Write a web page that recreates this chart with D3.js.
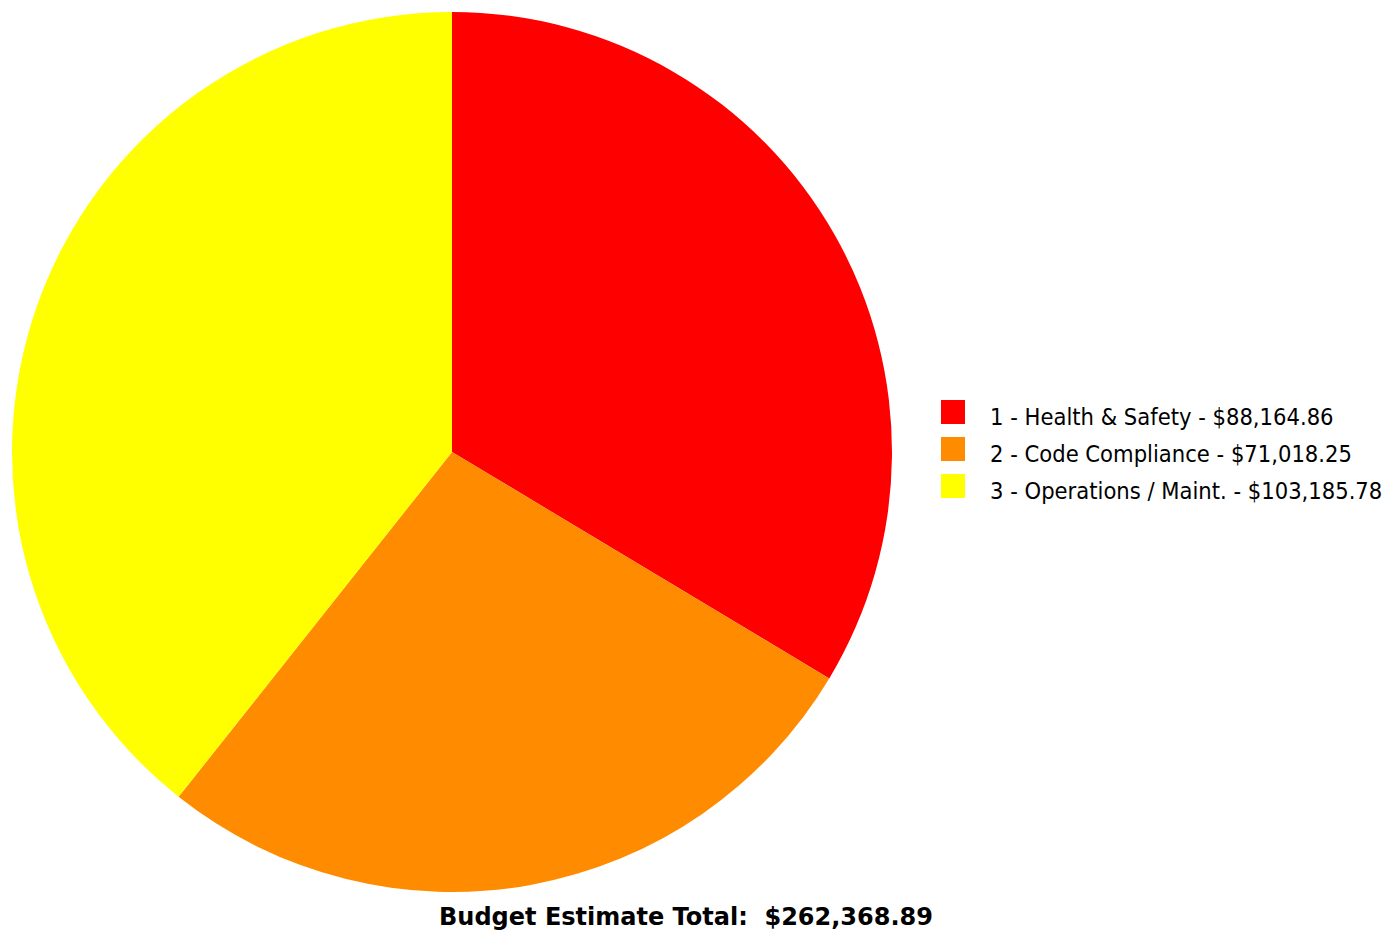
<!DOCTYPE html>
<html><head><meta charset="utf-8">
<script src="https://cdn.jsdelivr.net/npm/d3@7"></script>
<style>html,body{margin:0;padding:0;background:#fff;}</style>
</head><body>
<svg id="c" width="1390" height="931"></svg>
<script>
const categories = ["1 - Health & Safety", "2 - Code Compliance", "3 - Operations / Maint."];
const values = [88164.86, 71018.25, 103185.78];
const colors = ["#FF0000", "#FF8C00", "#FFFF00"];
const totalLabel = "Budget Estimate Total:";

const svg = d3.select("#c");
const cx = 452, cy = 452, r = 440;
const fmt = d3.format("$,.2f");

const pie = d3.pie().sort(null).value(d => d)(values);
const arc = d3.arc().innerRadius(0).outerRadius(r);
svg.append("g").attr("transform", `translate(${cx},${cy})`)
  .selectAll("path").data(pie).join("path")
  .attr("d", arc).attr("fill", (d,i) => colors[i]);

const lg = svg.append("g").attr("transform", "translate(941,400)");
const rows = lg.selectAll("g").data(categories).join("g")
  .attr("transform", (d,i) => `translate(0,${i*37})`);
rows.append("rect").attr("width", 24).attr("height", 24).attr("fill", (d,i) => colors[i]);
rows.append("text").attr("x", 49).attr("y", 25)
  .attr("font-family", "DejaVu Sans Condensed, DejaVu Sans, sans-serif")
  .attr("font-size", 23.5).attr("fill", "#000")
  .text((d,i) => `${d} - ${fmt(values[i])}`);

const total = d3.sum(values);
svg.append("text").attr("x", 686).attr("y", 925).attr("text-anchor", "middle")
  .attr("font-family", "DejaVu Sans, sans-serif").attr("font-weight", "bold")
  .attr("font-size", 24).attr("fill", "#000")
  .text(`${totalLabel}  ${fmt(total)}`).attr("xml:space", "preserve").style("white-space","pre");
</script>
</body></html>
